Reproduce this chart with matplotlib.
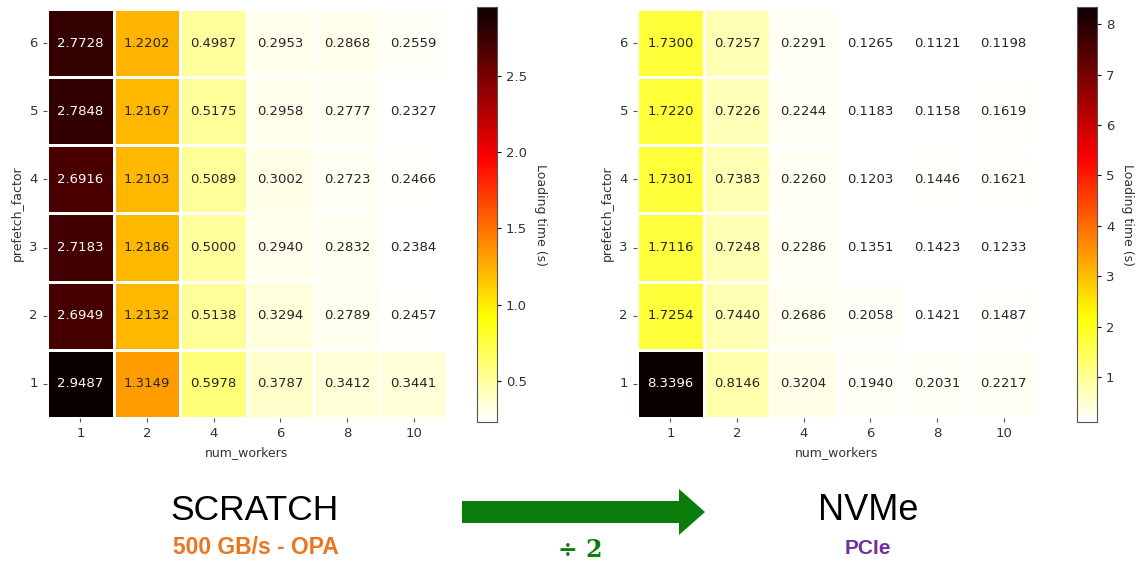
import matplotlib
matplotlib.use('agg')
import matplotlib.pyplot as plt
from matplotlib.patches import FancyArrow
import numpy as np
import seaborn as sns

# rows are prefetch_factor 6 (top) down to 1 (bottom)
prefetch = [6, 5, 4, 3, 2, 1]
workers = [1, 2, 4, 6, 8, 10]

scratch = [
    [2.7728, 1.2202, 0.4987, 0.2953, 0.2868, 0.2559],
    [2.7848, 1.2167, 0.5175, 0.2958, 0.2777, 0.2327],
    [2.6916, 1.2103, 0.5089, 0.3002, 0.2723, 0.2466],
    [2.7183, 1.2186, 0.5000, 0.2940, 0.2832, 0.2384],
    [2.6949, 1.2132, 0.5138, 0.3294, 0.2789, 0.2457],
    [2.9487, 1.3149, 0.5978, 0.3787, 0.3412, 0.3441],
]

nvme = [
    [1.7300, 0.7257, 0.2291, 0.1265, 0.1121, 0.1198],
    [1.7220, 0.7226, 0.2244, 0.1183, 0.1158, 0.1619],
    [1.7301, 0.7383, 0.2260, 0.1203, 0.1446, 0.1621],
    [1.7116, 0.7248, 0.2286, 0.1351, 0.1423, 0.1233],
    [1.7254, 0.7440, 0.2686, 0.2058, 0.1421, 0.1487],
    [8.3396, 0.8146, 0.3204, 0.1940, 0.2031, 0.2217],
]

W, H = 1142, 570
fig = plt.figure(figsize=(W / 100, H / 100), dpi=100)


def box(x0, y0, x1, y1):
    # pixel box -> figure fraction rect
    return [x0 / W, 1 - y1 / H, (x1 - x0) / W, (y1 - y0) / H]


def draw(data, ax_rect, cb_rect):
    ax = fig.add_axes(box(*ax_rect))
    cax = fig.add_axes(box(*cb_rect))
    sns.heatmap(np.array(data), ax=ax, cbar_ax=cax, cmap="hot_r",
                annot=True, fmt=".4f", annot_kws={"size": 9.5},
                linewidths=2, linecolor="white",
                xticklabels=workers, yticklabels=prefetch)
    ax.set_xlabel("num_workers", fontsize=9, color="#333333")
    ax.set_ylabel("prefetch_factor", fontsize=9, color="#333333")
    ax.tick_params(axis="both", labelsize=9.5, length=3, color="#555555",
                   labelcolor="#333333")
    ax.tick_params(axis="y", rotation=0)
    cax.tick_params(labelsize=9.5, length=3, labelcolor="#333333")
    cax.set_ylabel("Loading time (s)", rotation=270, labelpad=14,
                   fontsize=9, color="#333333")
    for s in cax.spines.values():
        s.set_visible(True)
        s.set_edgecolor("#555555")


draw(scratch, (47, 9, 447, 418), (477, 7, 497, 422))
draw(nvme, (637, 9, 1037, 418), (1077, 7, 1097, 422))

# annotation layer in pixel coordinates
ov = fig.add_axes([0, 0, 1, 1])
ov.set_xlim(0, W)
ov.set_ylim(H, 0)
ov.axis("off")

ov.text(255, 510, "SCRATCH", fontsize=25.5, family="Liberation Sans",
        ha="center", va="center", color="black")
ov.text(256, 548, "500 GB/s - OPA", fontsize=16.5, family="Liberation Sans",
        fontweight="bold", ha="center", va="center", color="#E8771E")
ov.text(868, 510, "NVMe", fontsize=26, family="Liberation Sans",
        ha="center", va="center", color="black")
ov.text(868, 548, "PCIe", fontsize=15, family="Liberation Sans",
        fontweight="bold", ha="center", va="center", color="#7030A0")

ov.add_patch(FancyArrow(462, 512, 243, 0, width=22, head_width=46,
                        head_length=26, length_includes_head=True,
                        color="#0B7D0B", linewidth=0))
ov.text(580, 550, "÷ 2", fontsize=17, family="DejaVu Serif",
        fontweight="bold", ha="center", va="center", color="#0B7D0B")

plt.savefig("out.png", dpi=100)
